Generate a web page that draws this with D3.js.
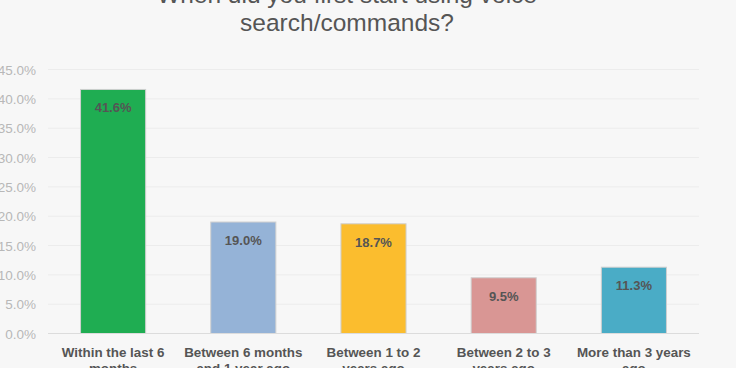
<!DOCTYPE html>
<html><head><meta charset="utf-8">
<script src="https://cdn.jsdelivr.net/npm/d3@7"></script>
<style>html,body{margin:0;padding:0;background:#f7f7f7;overflow:hidden}</style>
</head><body><svg id="c" width="736" height="368"></svg>
<script>
const categories = [["Within the last 6","months"],["Between 6 months","and 1 year ago"],["Between 1 to 2","years ago"],["Between 2 to 3","years ago"],["More than 3 years","ago"]];
const values = [41.6, 19.0, 18.7, 9.5, 11.3];
const colors = ["#1fad52","#95b3d7","#fbbd2e","#d99694","#4aacc6"];
const yTicks = [0,5,10,15,20,25,30,35,40,45];
const titleLines = ["When did you first start using voice","search/commands?"];

const svg = d3.select("#c");
svg.append("rect").attr("width",736).attr("height",368).attr("fill","#f7f7f7");
const m = {l:48, r:37, t:69.5, b:34.5};
const W = 736, H = 368;
const x = d3.scaleBand().domain(d3.range(values.length)).range([m.l, W-m.r]).paddingInner(0.5).paddingOuter(0.25);
const y = d3.scaleLinear().domain([0,45]).range([H-m.b, m.t]);

// gridlines
svg.append("g").selectAll("line").data(yTicks.filter(d=>d>0)).join("line")
  .attr("x1",m.l).attr("x2",W-m.r).attr("y1",d=>y(d)).attr("y2",d=>y(d))
  .attr("stroke","#ececec").attr("stroke-width",1);
// axis labels
const ya = d3.axisLeft(y).tickValues(yTicks).tickFormat(d=>d.toFixed(1)+"%").tickSize(0).tickPadding(0);
const yg = svg.append("g").attr("transform",`translate(${m.l-12},0)`).call(ya);
yg.select(".domain").remove();
yg.selectAll("text").attr("fill","#b8b8b8").style("font-family","Liberation Sans, Arial, sans-serif").style("font-size","13.5px").attr("dy","0.35em");

// bars
svg.append("g").selectAll("rect").data(values).join("rect")
  .attr("x",(d,i)=>x(i)).attr("width",x.bandwidth())
  .attr("y",d=>y(d)).attr("height",d=>y(0)-y(d))
  .attr("fill",(d,i)=>colors[i]).attr("stroke","#cfcfcf").attr("stroke-width",1);
// baseline
svg.append("line").attr("x1",m.l).attr("x2",W-m.r).attr("y1",y(0)).attr("y2",y(0)).attr("stroke","#dcdcdc");

// value labels
svg.append("g").selectAll("text").data(values).join("text")
  .attr("x",(d,i)=>x(i)+x.bandwidth()/2).attr("y",d=>y(d)+23)
  .attr("text-anchor","middle").attr("fill","#555")
  .style("font-family","Liberation Sans, Arial, sans-serif").style("font-weight","bold").style("font-size","13px")
  .text(d=>d.toFixed(1)+"%");

// x labels
const xl = svg.append("g").selectAll("text").data(categories).join("text")
  .attr("x",(d,i)=>x(i)+x.bandwidth()/2).attr("y",357)
  .attr("text-anchor","middle").attr("fill","#555")
  .style("font-family","Liberation Sans, Arial, sans-serif").style("font-weight","bold").style("font-size","13.4px");
xl.each(function(d){
  const t = d3.select(this);
  d.forEach((s,j)=>t.append("tspan").attr("x",t.attr("x")).attr("dy",j?"1.2em":0).text(s));
});

// title
svg.append("g").selectAll("text").data(titleLines).join("text")
  .attr("x",347).attr("y",(d,i)=>3+i*27.5)
  .attr("text-anchor","middle").attr("fill","#555")
  .style("font-family","Liberation Sans, Arial, sans-serif").style("font-size","24.5px")
  .text(d=>d);
</script></body></html>
